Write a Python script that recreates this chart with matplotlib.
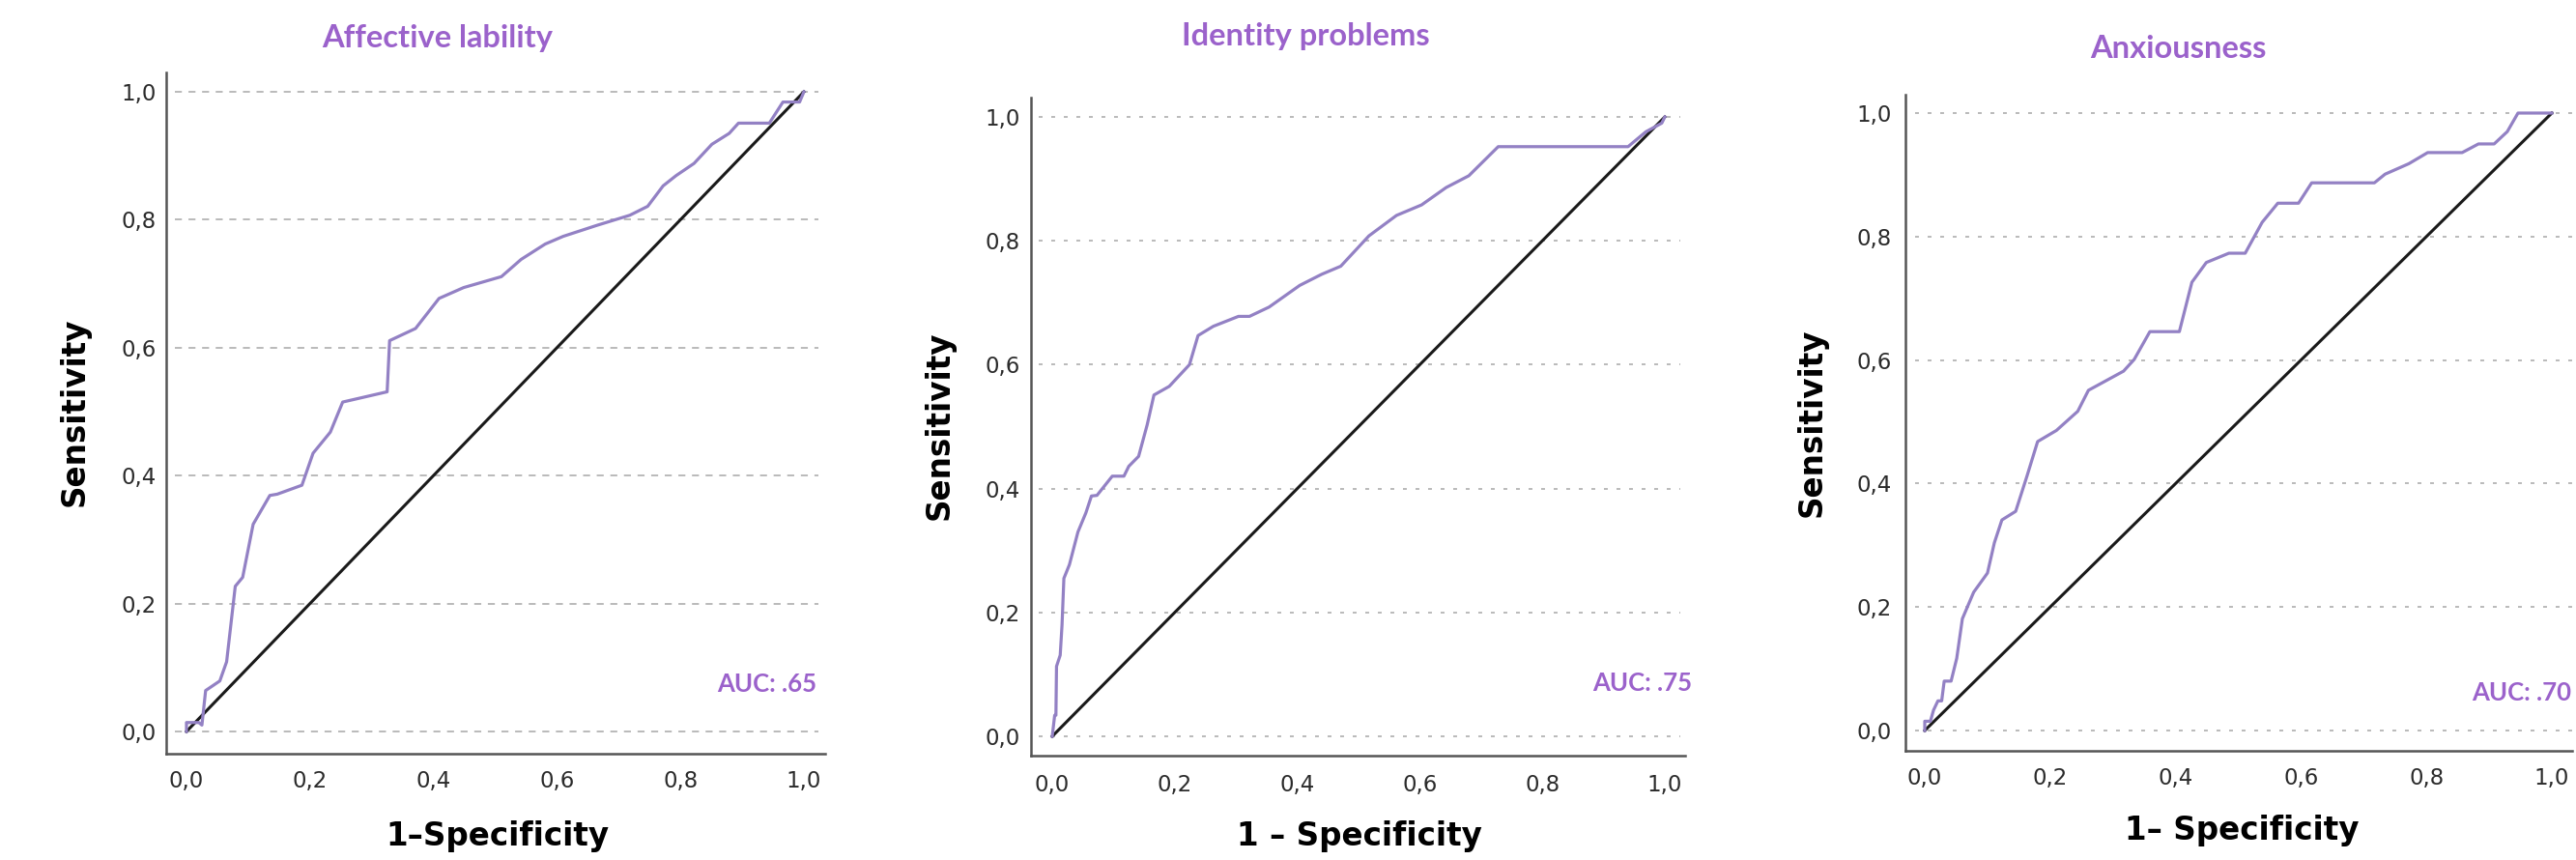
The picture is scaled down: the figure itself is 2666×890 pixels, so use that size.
import matplotlib
matplotlib.use("Agg")
import matplotlib.pyplot as plt

W, H = 2666, 890

titles = ["Affective lability", "Identity problems", "Anxiousness"]
auc_labels = ["AUC: .65", "AUC: .75", "AUC: .70"]
xlabels = ["1\u2013Specificity", "1 \u2013 Specificity", "1\u2013 Specificity"]
ylabel = "Sensitivity"
ticks = [0.0, 0.2, 0.4, 0.6, 0.8, 1.0]
tick_labels = ["0,0", "0,2", "0,4", "0,6", "0,8", "1,0"]

# ROC curves (1 - specificity, sensitivity)
fpr_affective = [0.0, 0.0, 0.02, 0.025, 0.031, 0.054, 0.065, 0.079, 0.091, 0.108, 0.135,
                 0.147, 0.187, 0.205, 0.233, 0.253, 0.325, 0.329, 0.371, 0.409, 0.449,
                 0.510, 0.542, 0.581, 0.610, 0.664, 0.718, 0.747, 0.772, 0.793, 0.822,
                 0.851, 0.879, 0.894, 0.944, 0.966, 0.993, 1.0]
tpr_affective = [0.0, 0.014, 0.014, 0.01, 0.064, 0.079, 0.109, 0.227, 0.241, 0.324, 0.369,
                 0.371, 0.385, 0.435, 0.468, 0.515, 0.531, 0.611, 0.630, 0.677, 0.694,
                 0.711, 0.738, 0.762, 0.774, 0.791, 0.807, 0.821, 0.853, 0.869, 0.888,
                 0.918, 0.935, 0.951, 0.951, 0.984, 0.984, 1.0]

fpr_identity = [0.0, 0.004, 0.006, 0.007, 0.013, 0.016, 0.019, 0.028, 0.042, 0.055, 0.064,
                0.073, 0.098, 0.117, 0.125, 0.141, 0.155, 0.166, 0.191, 0.224, 0.238,
                0.263, 0.304, 0.322, 0.354, 0.404, 0.440, 0.471, 0.517, 0.562, 0.603,
                0.643, 0.680, 0.728, 0.940, 0.969, 0.995, 0.995, 1.0]
tpr_identity = [0.0, 0.034, 0.034, 0.113, 0.131, 0.180, 0.255, 0.277, 0.330, 0.361, 0.388,
                0.389, 0.420, 0.420, 0.436, 0.452, 0.503, 0.551, 0.565, 0.600, 0.647,
                0.662, 0.678, 0.678, 0.693, 0.728, 0.746, 0.759, 0.808, 0.841, 0.858,
                0.886, 0.905, 0.952, 0.952, 0.976, 0.99, 0.99, 1.0]

fpr_anxious = [0.0, 0.0, 0.009, 0.014, 0.021, 0.027, 0.031, 0.042, 0.051, 0.060, 0.078,
               0.100, 0.111, 0.123, 0.145, 0.163, 0.180, 0.210, 0.244, 0.261, 0.317,
               0.334, 0.359, 0.406, 0.426, 0.449, 0.485, 0.511, 0.538, 0.563, 0.596,
               0.617, 0.717, 0.734, 0.772, 0.802, 0.857, 0.883, 0.908, 0.929, 0.946, 1.0]
tpr_anxious = [0.0, 0.015, 0.015, 0.033, 0.048, 0.048, 0.080, 0.080, 0.117, 0.181, 0.224,
               0.255, 0.304, 0.341, 0.355, 0.412, 0.468, 0.486, 0.517, 0.551, 0.582,
               0.601, 0.646, 0.646, 0.726, 0.758, 0.773, 0.773, 0.823, 0.854, 0.854,
               0.887, 0.887, 0.901, 0.918, 0.936, 0.936, 0.950, 0.950, 0.970, 1.0, 1.0]

curves = [(fpr_affective, tpr_affective), (fpr_identity, tpr_identity), (fpr_anxious, tpr_anxious)]

# layout in figure pixels: spine box, data 0/1 positions, text anchors
layout = [
    dict(box=(172, 854, 780, 75), unit=(193, 832, 757, 95), grid=(-0.019, 1.023),
         dash=(4.0, 3.8), title=(453, 40), auc=(845, 708), ylab=(77, 426), xlab=(515, 865),
         xpad=12.5, ypad=7.5),
    dict(box=(1067, 1744, 782, 101), unit=(1089, 1723, 762, 121), grid=(-0.022, 1.025),
         dash=(2.2, 5.0), title=(1351, 37), auc=(1751, 707), ylab=(972, 440), xlab=(1407, 865),
         xpad=14, ypad=8),
    dict(box=(1972, 2662, 777, 98), unit=(1992, 2641, 756, 117), grid=(-0.015, 1.032),
         dash=(2.2, 5.0), title=(2254, 51), auc=(2661, 717), ylab=(1875, 437), xlab=(2320, 860),
         xpad=12, ypad=10),
]

purple_text = "#9B62CB"
purple_line = "#9381C4"

fig = plt.figure(figsize=(W / 100, H / 100), dpi=100)


def fx(px):
    return px / W


def fy(py):
    return 1 - py / H


for i, lay in enumerate(layout):
    left, right, bottom, top = lay["box"]
    x0, x1, y0, y1 = lay["unit"]
    ax = fig.add_axes([fx(left), fy(bottom), (right - left) / W, (bottom - top) / H])
    ax.set_xlim((left - x0) / (x1 - x0), (right - x0) / (x1 - x0))
    ax.set_ylim((y0 - bottom) / (y0 - y1), (y0 - top) / (y0 - y1))

    for t in ticks:
        ax.plot(lay["grid"], [t, t], color="#B4B4B4", lw=1.3,
                linestyle=(0, lay["dash"]), zorder=1)

    ax.plot([0, 1], [0, 1], color="#1a1a1a", lw=2.2, zorder=2)
    fpr, tpr = curves[i]
    ax.plot(fpr, tpr, color=purple_line, lw=2.3, zorder=3, solid_joinstyle="round")

    for s in ["top", "right"]:
        ax.spines[s].set_visible(False)
    for s in ["left", "bottom"]:
        ax.spines[s].set_color("#555555")
        ax.spines[s].set_linewidth(1.8)

    ax.set_xticks(ticks)
    ax.set_xticklabels(tick_labels)
    ax.set_yticks(ticks)
    ax.set_yticklabels(tick_labels)
    ax.tick_params(axis="both", length=0, labelsize=16.5, labelcolor="#2b2b2b")
    ax.tick_params(axis="x", pad=lay["xpad"])
    ax.tick_params(axis="y", pad=lay["ypad"])

    fig.text(fx(lay["title"][0]), fy(lay["title"][1]), titles[i], color=purple_text,
             family="Lato", weight="bold", fontsize=23.5, ha="center", va="center")
    fig.text(fx(lay["auc"][0]), fy(lay["auc"][1]), auc_labels[i], color=purple_text,
             family="Lato", weight="bold", fontsize=18.5, ha="right", va="center")
    fig.text(fx(lay["ylab"][0]), fy(lay["ylab"][1]), ylabel, rotation=90,
             family="DejaVu Sans", weight="bold", fontsize=23.5, ha="center", va="center")
    fig.text(fx(lay["xlab"][0]), fy(lay["xlab"][1]), xlabels[i],
             family="DejaVu Sans", weight="bold", fontsize=23.5, ha="center", va="center")

fig.savefig("out.png", dpi=100, facecolor="white")
